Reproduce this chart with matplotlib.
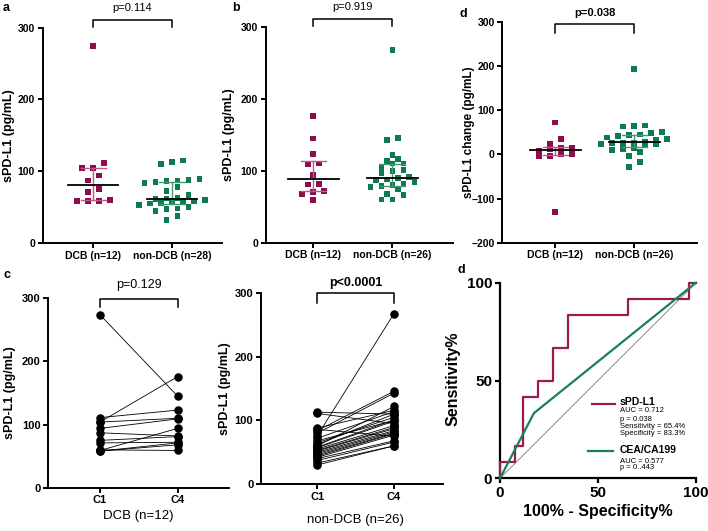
import matplotlib.pyplot as plt
import numpy as np

plt.rcParams['font.family'] = ['Liberation Sans', 'DejaVu Sans']

dcb_color = '#8b0d4e'
non_color = '#0f7a4f'
dcb_err = '#c0588a'
non_err = '#3f9c73'

# panel a: baseline sPD-L1
a_labels = ['DCB (n=12)', 'non-DCB (n=28)']
a_dcb = [274, 111, 104, 104, 94, 87, 75, 71, 60, 59, 58, 58]
a_non = [115, 113, 110, 89, 88, 87, 86, 85, 84, 78, 72, 67, 63, 62,
         61, 60, 59, 58, 57, 56, 55, 53, 50, 48, 47, 45, 38, 32]

# panel b: sPD-L1 at C4
b_labels = ['DCB (n=12)', 'non-DCB (n=26)']
b_dcb = [176, 145, 123, 110, 109, 94, 82, 81, 72, 71, 68, 59]
b_non = [268, 146, 143, 122, 116, 114, 110, 110, 105, 101, 100, 97, 91,
         90, 88, 87, 84, 82, 80, 79, 77, 75, 68, 66, 60, 60]

# panel d (top): change C4 - C1
d_labels = ['DCB (n=12)', 'non-DCB (n=26)']
d_dcb = [72, 35, 24, 15, 14, 12, 8, 1, 0, -4, -5, -130]
d_non = [193, 65, 64, 63, 50, 48, 45, 44, 42, 38, 35, 33, 28, 27, 26,
         25, 24, 22, 20, 15, 12, 10, 5, -3, -18, -28]

# panel c: paired C1 -> C4
c_ticks = ['C1', 'C4']
c_dcb_c1 = [274, 104, 59, 111, 94, 104, 87, 75, 71, 60, 58, 58]
c_dcb_c4 = [145, 176, 94, 123, 109, 110, 82, 81, 72, 59, 71, 68]
c_non_c1 = [76, 113, 111, 84, 80, 60, 88, 72, 62, 65, 58, 68, 57, 55,
            53, 52, 50, 48, 46, 44, 42, 86, 40, 37, 33, 30]
c_non_c4 = [268, 110, 95, 146, 143, 122, 116, 114, 110, 105, 101, 100, 99,
            92, 89, 87, 84, 82, 80, 79, 77, 75, 68, 66, 60, 60]

# panel d (bottom): ROC curves
roc_spd_fpr = [0, 0, 7.7, 11.5, 19.2, 26.9, 34.6, 65.4, 96.2, 100]
roc_spd_tpr = [0, 8.3, 16.7, 41.7, 50, 66.7, 83.3, 91.7, 100, 100]
roc_cea_fpr = [0, 17.3, 100]
roc_cea_tpr = [0, 33.3, 100]

fig = plt.figure(figsize=(7.08, 5.31), dpi=100)


def style(ax, lw=1.4, size=7.5):
    ax.spines['top'].set_visible(False)
    ax.spines['right'].set_visible(False)
    ax.spines['left'].set_linewidth(lw)
    ax.spines['bottom'].set_linewidth(lw)
    ax.tick_params(direction='out', length=3.5, width=lw, labelsize=size, pad=2)
    plt.setp(ax.get_xticklabels() + ax.get_yticklabels(), fontweight='bold')


def px_scale(ax):
    bb = ax.get_position()
    w = bb.width * fig.get_figwidth() * fig.dpi
    h = bb.height * fig.get_figheight() * fig.dpi
    x0, x1 = ax.get_xlim()
    y0, y1 = ax.get_ylim()
    return w / (x1 - x0), h / (y1 - y0)


def swarm(vals, center, ppx, ppy, step_px=11, bin_px=5.5):
    v = np.sort(np.asarray(vals, dtype=float))
    xs = np.zeros(len(v))
    rows, cur = [], [0]
    for i in range(1, len(v)):
        if (v[i] - v[cur[0]]) * ppy <= bin_px:
            cur.append(i)
        else:
            rows.append(cur)
            cur = [i]
    rows.append(cur)
    for r in rows:
        n = len(r)
        for k, idx in enumerate(r):
            xs[idx] = center + (k - (n - 1) / 2) * step_px / ppx
    return xs, v


def bracket(ax, text, y_top, y_bot, ty, bold, size=8):
    tr = ax.get_xaxis_transform()
    ax.plot([0, 0, 1, 1], [y_bot, y_top, y_top, y_bot], transform=tr,
            color='black', lw=1.1, clip_on=False)
    ax.text(0.5, ty, text, transform=tr, ha='center', va='center',
            fontsize=size, fontweight='bold' if bold else 'normal')


def dot_panel(rect, groups, labels, xlim, ylim, yticks, ylabel, ylab_x, ylab_size=9):
    ax = fig.add_axes(rect)
    ax.set_xlim(xlim)
    ax.set_ylim(ylim)
    ppx, ppy = px_scale(ax)
    for i, (vals, c, ec) in enumerate(zip(groups, [dcb_color, non_color], [dcb_err, non_err])):
        xs, v = swarm(vals, i, ppx, ppy)
        ax.scatter(xs, v, marker='s', s=17, color=c, edgecolors='none', zorder=3, clip_on=False)
        q1, med, q3 = np.percentile(vals, [25, 50, 75])
        ax.plot([i - 0.32, i + 0.32], [med, med], color='black', lw=1.3, zorder=5)
        ax.plot([i, i], [q1, q3], color=ec, lw=1, zorder=4)
        for q in (q1, q3):
            ax.plot([i - 0.16, i + 0.16], [q, q], color=ec, lw=1, zorder=4)
    ax.set_xticks([0, 1])
    ax.set_xticklabels(labels)
    ax.set_yticks(yticks)
    ax.set_ylabel(ylabel, fontsize=ylab_size, fontweight='bold', va='center')
    ax.yaxis.set_label_coords(ylab_x, 0.5)
    style(ax)
    return ax


# ---- a ----
ax_a = dot_panel([0.0603, 0.5424, 0.2528, 0.4055], [a_dcb, a_non], a_labels,
                 (-0.64, 1.63), (0, 300), [0, 100, 200, 300], 'sPD-L1 (pg/mL)', -0.19)
bracket(ax_a, 'p=0.114', 1.036, 1.005, 1.09, False)

# ---- b ----
ax_b = dot_panel([0.3753, 0.5429, 0.2641, 0.4062], [b_dcb, b_non], b_labels,
                 (-0.60, 1.76), (0, 300), [0, 100, 200, 300], 'sPD-L1 (pg/mL)', -0.195)
bracket(ax_b, 'p=0.919', 1.036, 1.003, 1.091, False)

# ---- d (top) ----
ax_d = dot_panel([0.7095, 0.5429, 0.2746, 0.4162], [d_dcb, d_non], d_labels,
                 (-0.67, 1.79), (-200, 300), [-200, -100, 0, 100, 200, 300],
                 'sPD-L1 change (pg/mL)', -0.17, ylab_size=8.5)
bracket(ax_d, 'p=0.038', 0.99, 0.95, 1.038, True)


# ---- c ----
def paired_panel(rect, c1, c4, xlim, xlabel, xlab_x, xlab_y, ylab_x):
    ax = fig.add_axes(rect)
    ax.set_xlim(xlim)
    ax.set_ylim(0, 300)
    for y0, y1 in zip(c1, c4):
        ax.plot([0, 1], [y0, y1], color='black', lw=0.6, zorder=2)
    ax.scatter(np.zeros(len(c1)), c1, s=26, color='black', zorder=3, clip_on=False)
    ax.scatter(np.ones(len(c4)), c4, s=26, color='black', zorder=3, clip_on=False)
    ax.set_xticks([0, 1])
    ax.set_xticklabels(c_ticks)
    ax.set_yticks([0, 100, 200, 300])
    ax.set_xlabel(xlabel, fontsize=9.5)
    ax.xaxis.set_label_coords(xlab_x, xlab_y)
    ax.set_ylabel('sPD-L1 (pg/mL)', fontsize=9, fontweight='bold', va='center')
    ax.yaxis.set_label_coords(ylab_x, 0.5)
    style(ax, size=8)
    return ax


ax_c1 = paired_panel([0.0682, 0.0815, 0.2552, 0.3567], c_dcb_c1, c_dcb_c4,
                     (-0.665, 1.66), 'DCB (n=12)', 0.497, -0.115, -0.21)
bracket(ax_c1, 'p=0.129', 0.995, 0.952, 1.07, False, size=9)
ax_c2 = paired_panel([0.3686, 0.0885, 0.2575, 0.3591], c_non_c1, c_non_c4,
                     (-0.735, 1.643), 'non-DCB (n=26)', 0.52, -0.155, -0.20)
bracket(ax_c2, 'p<0.0001', 1.0, 0.951, 1.054, True, size=9)

# ---- d (ROC) ----
ax_r = fig.add_axes([0.7062, 0.0992, 0.2768, 0.3684])
ax_r.set_xlim(0, 100)
ax_r.set_ylim(0, 100)
ax_r.plot([0, 100], [0, 100], color='#777777', lw=0.6, zorder=1)
ax_r.plot(roc_spd_fpr, roc_spd_tpr, drawstyle='steps-post', color='#9a1a52', lw=1.6,
          zorder=3, clip_on=False)
ax_r.plot(roc_cea_fpr, roc_cea_tpr, color='#1b7f5b', lw=1.6, zorder=4, clip_on=False)
ax_r.set_xticks([0, 50, 100])
ax_r.set_yticks([0, 50, 100])
ax_r.set_xlabel('100% - Specificity%', fontsize=11.5, fontweight='bold')
ax_r.xaxis.set_label_coords(0.5, -0.13)
ax_r.set_ylabel('Sensitivity%', fontsize=11.5, fontweight='bold', va='center')
ax_r.yaxis.set_label_coords(-0.24, 0.51)
style(ax_r, lw=1.6, size=11)

ax_r.plot([47, 58.7], [38, 38], color='#9a1a52', lw=1.6)
ax_r.text(61.2, 39, 'sPD-L1', fontsize=7.5, fontweight='bold', va='center')
for yy, t in zip([34.6, 30.2, 26.4, 23.0],
                 ['AUC = 0.712', 'p = 0.038', 'Sensitivity = 65.4%', 'Specificity = 83.3%']):
    ax_r.text(61.2, yy, t, fontsize=5.5, va='center')
ax_r.plot([45, 57.7], [14, 14], color='#1b7f5b', lw=1.6)
ax_r.text(61.2, 14.5, 'CEA/CA199', fontsize=7.5, fontweight='bold', va='center')
for yy, t in zip([8.8, 5.3], ['AUC = 0.577', 'p = 0..443']):
    ax_r.text(61.2, yy, t, fontsize=5.5, va='center')

# panel letters
for x, y, s in [(6, 8, 'a'), (236, 8, 'b'), (463, 14, 'd'), (7, 275, 'c'), (461, 270, 'd')]:
    fig.text(x / 708, 1 - y / 531, s, fontsize=9, fontweight='bold', ha='center', va='center')

fig.savefig('out.png', dpi=100)
